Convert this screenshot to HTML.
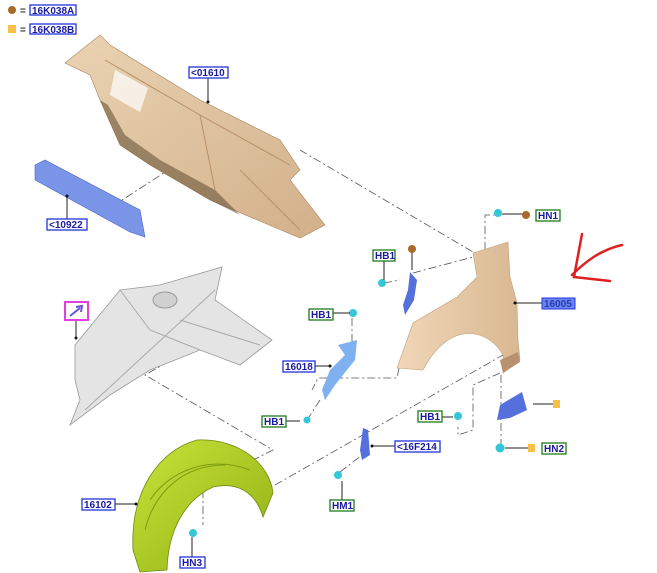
<!DOCTYPE html>
<html><head><meta charset="utf-8"><style>
html,body{margin:0;padding:0;background:#fff;}
svg{display:block;}
text{font-family:"Liberation Sans",sans-serif;font-weight:bold;font-size:10px;fill:#1a1aa0;}
.b{fill:#fff;stroke:#2233dd;stroke-width:1.3;}
.g{fill:#fff;stroke:#1e7a1e;stroke-width:1.3;}
.l{stroke:#222;stroke-width:1;fill:none;}
.d{stroke:#555;stroke-width:0.8;fill:none;stroke-dasharray:8 3 2 3;}
</style></head><body>
<svg width="657" height="573" viewBox="0 0 657 573" xmlns="http://www.w3.org/2000/svg">
<defs>
<linearGradient id="tan" x1="0" y1="0" x2="1" y2="1"><stop offset="0" stop-color="#ead3b3"/><stop offset="1" stop-color="#d2b08a"/></linearGradient>
<linearGradient id="fen" x1="0" y1="0" x2="1" y2="0"><stop offset="0" stop-color="#f0d7b8"/><stop offset="1" stop-color="#d9b892"/></linearGradient>
<linearGradient id="grn" x1="0" y1="0" x2="1" y2="1"><stop offset="0" stop-color="#c8e23a"/><stop offset="1" stop-color="#8fb012"/></linearGradient>
</defs>

<circle cx="12" cy="10" r="4" fill="#a8692a"/><text x="20" y="14" style="fill:#333">=</text>
<rect class="b" x="30" y="5" width="46" height="10"/><text x="32" y="14">16K038A</text>
<rect x="8" y="25" width="8" height="8" fill="#f7c04a"/><text x="20" y="33" style="fill:#333">=</text>
<rect class="b" x="30" y="24" width="46" height="10"/><text x="32" y="33">16K038B</text>

<path class="d" d="M99,215 L173,167"/>
<path class="d" d="M300,150 L473,252 L483,255"/>
<path class="d" d="M413,273 L473,257"/>
<path class="d" d="M485,250 L485,215 L497,215"/>
<path class="d" d="M399,368 L397,378 L318,378 L312,390"/>
<path class="d" d="M500,373 L473,385 L473,430 L458,435 L458,427"/>
<path class="d" d="M501,375 L501,447"/>
<path class="d" d="M275,485 L503,355"/>
<path class="d" d="M197,345 L145,375 L273,450 L253,460"/>
<path class="d" d="M352,318 L352,345"/>
<path class="d" d="M320,400 L307,420"/>
<path class="d" d="M340,472 L362,455"/>
<path class="d" d="M203,490 L203,525"/>
<path class="d" d="M384,283 L400,280"/>

<!-- dashboard -->
<polygon points="65,63 100,35 110,45 200,100 280,140 300,170 290,180 325,225 300,238 210,200 150,165 120,145 100,100 90,75" fill="url(#tan)" stroke="#a88660" stroke-width="0.6"/>
<polygon points="100,100 120,145 150,165 210,200 240,215 215,190 160,160 125,135 108,105" fill="#5e4a30" opacity="0.55"/>
<polygon points="115,70 148,88 140,112 110,95" fill="#fff" opacity="0.7"/>
<path d="M105,60 L200,115 L290,165 M200,115 L215,190 M240,170 L300,230" stroke="#b89068" stroke-width="1" fill="none"/>
<polygon points="35,165 45,160 140,210 145,237 130,232 35,180" fill="#7a95e8" stroke="#4a63c0" stroke-width="0.6"/>

<!-- grey frame -->
<polygon points="75,345 120,290 160,285 222,267 215,300 272,340 240,365 200,350 150,370 110,395 70,425 80,400 75,380" fill="#e4e4e4" stroke="#999" stroke-width="0.8"/>
<path d="M85,410 L215,290 M120,290 L150,330 L200,350 M180,320 L260,345" stroke="#aaa" fill="none"/>
<ellipse cx="165" cy="300" rx="12" ry="8" fill="#d0d0d0" stroke="#999"/>

<!-- wheel liner -->
<path d="M133,550 C130,490 160,450 197,440 C240,438 270,465 273,493 L263,517 C255,490 235,482 213,487 C185,500 168,530 167,570 L140,572 Z" fill="url(#grn)" stroke="#6f8a10" stroke-width="0.8"/>
<path d="M150,500 C170,470 210,455 250,470 M145,530 C155,490 185,465 225,465" stroke="#7c9c10" fill="none"/>

<!-- fender -->
<path d="M473,253 L508,242 L510,277 L517,303 L518,340 L520,360 L503,373 L503,355 C490,330 450,318 423,370 L397,368 L413,323 L457,297 L477,277 Z" fill="url(#fen)" stroke="#c4a07a" stroke-width="0.6"/>
<path d="M500,360 L518,352 L520,362 L503,373 Z" fill="#b89270"/>

<path d="M622,245 C600,250 585,262 572,275 M582,234 L574,277 L610,281" stroke="#e02020" stroke-width="2.5" fill="none" stroke-linecap="round"/>

<polygon points="410,272 417,280 414,300 405,315 403,305 408,290" fill="#5570dd"/>
<polygon points="338,345 357,340 355,360 335,385 325,400 322,390 330,370 345,355" fill="#7fb0f0"/>
<polygon points="363,428 368,430 370,455 362,460 360,450" fill="#5570dd"/>
<polygon points="500,405 522,392 527,410 510,418 497,420" fill="#5570dd"/>

<g fill="#35c7d8">
<circle cx="382" cy="283" r="4"/><circle cx="353" cy="313" r="4"/><circle cx="307" cy="420" r="3.5"/>
<circle cx="458" cy="416" r="4"/><circle cx="338" cy="475" r="4"/><circle cx="498" cy="213" r="4"/>
<circle cx="500" cy="448" r="4.5"/><circle cx="193" cy="533" r="4"/>
</g>

<path class="l" d="M208,77 V102 M67,219 V196 M76,320 V338 M502,214 H526 M384,260 V280 M412,252 V270 M515,303 H542 M333,313 H350 M315,366 H330 M286,421 H300 M442,417 H453 M372,446 H395 M342,481 V500 M505,448 H528 M533,404 H553 M115,504 H136 M192,537 V557"/>
<g fill="#111"><circle cx="208" cy="102" r="1.5"/><circle cx="67" cy="196" r="1.5"/><circle cx="76" cy="338" r="1.5"/><circle cx="515" cy="303" r="1.5"/><circle cx="330" cy="366" r="1.5"/><circle cx="136" cy="504" r="1.5"/><circle cx="372" cy="446" r="1.5"/></g>
<circle cx="526" cy="215" r="4" fill="#a8692a"/>
<circle cx="412" cy="249" r="4" fill="#a8692a"/>
<rect x="528" y="444" width="7" height="8" fill="#f7c04a"/>
<rect x="553" y="400" width="7" height="8" fill="#f7c04a"/>

<rect class="b" x="189" y="67" width="39" height="11"/><text x="191" y="76">&lt;01610</text>
<rect class="b" x="47" y="219" width="40" height="11"/><text x="49" y="228">&lt;10922</text>
<rect class="g" x="536" y="210" width="24" height="11"/><text x="538" y="219">HN1</text>
<rect class="g" x="373" y="250" width="22" height="11"/><text x="375" y="259">HB1</text>
<rect x="542" y="298" width="33" height="11" fill="#6a86f0" stroke="#2233dd"/><text x="544" y="307" style="fill:#2a3ab0">16005</text>
<rect x="65" y="302" width="23" height="18" fill="#fff" stroke="#e040e0" stroke-width="2"/>
<path d="M70,316 L80,308 M76,307 L82,306 L81,312" stroke="#6a50e0" stroke-width="2" fill="none"/>
<rect class="g" x="309" y="309" width="24" height="11"/><text x="311" y="318">HB1</text>
<rect class="b" x="283" y="361" width="32" height="11"/><text x="285" y="370">16018</text>
<rect class="g" x="262" y="416" width="24" height="11"/><text x="264" y="425">HB1</text>
<rect class="g" x="418" y="411" width="24" height="11"/><text x="420" y="420">HB1</text>
<rect class="b" x="395" y="441" width="45" height="11"/><text x="397" y="450">&lt;16F214</text>
<rect class="g" x="542" y="443" width="24" height="11"/><text x="544" y="452">HN2</text>
<rect class="g" x="330" y="500" width="24" height="11"/><text x="332" y="509">HM1</text>
<rect class="b" x="82" y="499" width="33" height="11"/><text x="84" y="508">16102</text>
<rect class="b" x="180" y="557" width="25" height="11"/><text x="182" y="566">HN3</text>
</svg>
</body></html>
